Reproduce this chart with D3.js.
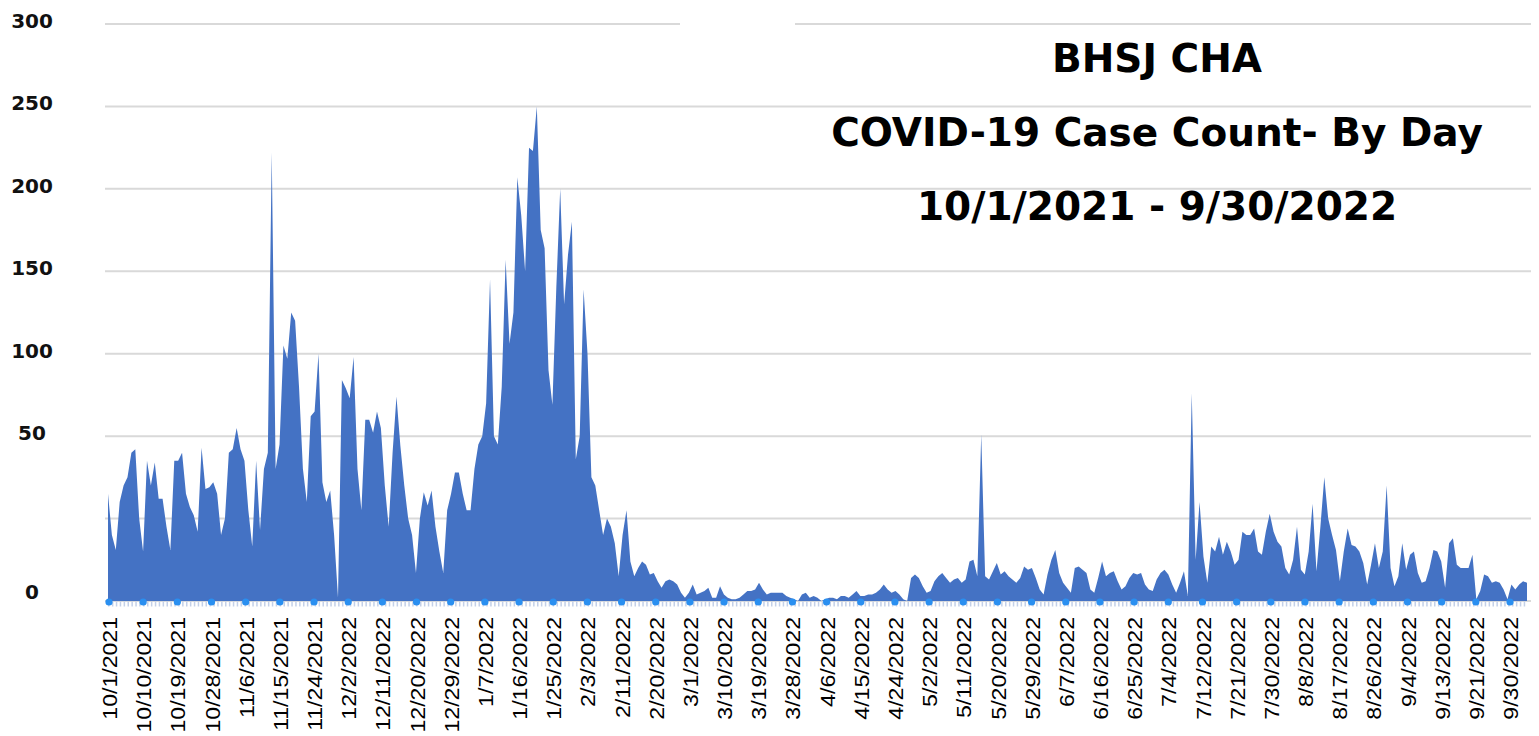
<!DOCTYPE html>
<html>
<head>
<meta charset="utf-8">
<script src="https://cdn.jsdelivr.net/npm/d3@7"></script>
<style>
	html, body { margin: 0; padding: 0; background: #fff; }
	svg { display: block; }
	.title { font-family: "DejaVu Sans", sans-serif; font-weight: 700; font-size: 39px; fill: #000; }
	.yaxis text { font-family: "DejaVu Sans", sans-serif; font-weight: 700; font-size: 20px; fill: #111; }
	.xaxis text { font-family: "Liberation Sans", Arial, sans-serif; font-size: 21px; fill: #000; }
</style>
</head>
<body>
<div id="chart"></div>
<script>
"use strict";

const chartWidth = 1539, chartHeight = 736;

//  Chart data
const titleLines = ['BHSJ CHA', 'COVID-19 Case Count- By Day', '10/1/2021 - 9/30/2022'];

const xTickLabels = [
	'10/1/2021', '10/10/2021', '10/19/2021', '10/28/2021', '11/6/2021', '11/15/2021', '11/24/2021',
	'12/2/2022', '12/11/2022', '12/20/2022', '12/29/2022', '1/7/2022', '1/16/2022', '1/25/2022',
	'2/3/2022', '2/11/2022', '2/20/2022', '3/1/2022', '3/10/2022', '3/19/2022', '3/28/2022',
	'4/6/2022', '4/15/2022', '4/24/2022', '5/2/2022', '5/11/2022', '5/20/2022', '5/29/2022',
	'6/7/2022', '6/16/2022', '6/25/2022', '7/4/2022', '7/12/2022', '7/21/2022', '7/30/2022',
	'8/8/2022', '8/17/2022', '8/26/2022', '9/4/2022', '9/13/2022', '9/21/2022', '9/30/2022'
];

// the picture's y labels do not sit on evenly numbered lines, so keep text and position apart
const yTickText = ['0', '50', '100', '150', '200', '250', '300'];
const yTickAt = [0, 100, 150, 200, 250, 300, 350];
const gridValues = [0, 50, 100, 150, 200, 250, 300, 350];

// one value per day, 10/1/2021 .. 9/30/2022
const caseCounts = [
	65, 40, 31, 60, 70, 75, 90, 92, 50, 30, 85, 70, 84, 62, 62, 45, 31, 85, 85, 90,
	65, 57, 52, 42, 93, 68, 69, 72, 65, 40, 50, 90, 92, 105, 92, 85, 55, 33, 85, 43,
	80, 90, 272, 80, 95, 155, 147, 175, 170, 130, 80, 60, 112, 115, 150, 72, 60, 67, 40, 2,
	134, 129, 123, 148, 80, 55, 110, 110, 102, 115, 105, 70, 45, 90, 124, 94, 70, 50, 40, 17,
	50, 66, 58, 67, 45, 30, 17, 55, 65, 78, 78, 65, 55, 55, 80, 95, 100, 120, 195, 100,
	95, 130, 207, 156, 175, 257, 234, 200, 275, 273, 300, 225, 214, 140, 119, 190, 250, 180, 210, 230,
	86, 100, 189, 150, 75, 70, 55, 40, 50, 45, 35, 15, 40, 55, 24, 15, 20, 24, 22, 16,
	17, 12, 8, 12, 13, 12, 10, 5, 2, 5, 10, 4, 5, 6, 8, 2, 2, 9, 4, 2,
	1, 1, 2, 4, 6, 6, 7, 11, 7, 4, 5, 5, 5, 5, 3, 2, 1, 0, 4, 5,
	2, 3, 2, 0, 1, 2, 2, 1, 3, 3, 2, 4, 6, 3, 3, 4, 4, 5, 7, 10,
	7, 5, 6, 4, 1, 0, 14, 16, 14, 9, 5, 6, 12, 15, 17, 14, 11, 13, 14, 11,
	13, 24, 25, 15, 101, 15, 13, 18, 23, 16, 18, 15, 13, 11, 14, 21, 19, 20, 14, 7,
	4, 16, 25, 31, 17, 11, 8, 5, 20, 21, 19, 17, 7, 5, 14, 24, 15, 17, 18, 12,
	7, 9, 14, 17, 16, 17, 10, 7, 6, 13, 17, 19, 16, 10, 5, 11, 18, 3, 126, 25,
	60, 27, 11, 33, 30, 39, 28, 36, 30, 22, 25, 42, 40, 40, 44, 30, 28, 42, 53, 42,
	36, 33, 20, 16, 25, 45, 19, 16, 30, 59, 18, 45, 75, 50, 40, 31, 12, 30, 44, 34,
	33, 30, 23, 10, 22, 35, 20, 30, 70, 20, 9, 15, 35, 19, 28, 30, 17, 11, 12, 20,
	31, 30, 24, 8, 35, 38, 22, 20, 20, 20, 28, 1, 6, 16, 15, 11, 12, 11, 7, 1,
	10, 7, 10, 12, 11
];

//  Scales
const plotLeft = 108, plotRight = 1527, plotTop = 24, plotBottom = 601;

const x = d3.scaleLinear()
	.domain([0, caseCounts.length - 1])
	.range([plotLeft, plotRight]);

const xLabels = d3.scalePoint()
	.domain(xTickLabels)
	.range([109, 1510]);

const y = d3.scaleLinear()
	.domain([0, 350])
	.range([plotBottom, plotTop]);

//  SVG
const svg = d3.select('#chart').append('svg')
	.attr('width', chartWidth)
	.attr('height', chartHeight)
	.attr('viewBox', [0, 0, chartWidth, chartHeight]);

svg.selectAll('.grid')
	.data(gridValues)
	.join('line')
	.classed('grid', true)
	.attr('x1', 105)
	.attr('x2', 1531)
	.attr('y1', d => y(d))
	.attr('y2', d => y(d))
	.attr('stroke', '#d9d9d9')
	.attr('stroke-width', 2);

// gap in the top grid line, as in the picture
svg.append('rect')
	.attr('x', 680)
	.attr('y', y(350) - 3)
	.attr('width', 115)
	.attr('height', 6)
	.attr('fill', '#fff');

const area = d3.area()
	.x((d, i) => x(i))
	.y0(y(0))
	.y1(d => y(d));

svg.append('path')
	.datum(caseCounts)
	.attr('d', area)
	.attr('fill', '#4472c4');

// light daily tick band under the baseline
svg.append('line')
	.attr('x1', plotLeft)
	.attr('x2', plotRight)
	.attr('y1', plotBottom + 3)
	.attr('y2', plotBottom + 3)
	.attr('stroke', '#c3d0e8')
	.attr('stroke-width', 5)
	.attr('stroke-dasharray', '1.5,2.4');

svg.selectAll('.dot')
	.data(xTickLabels)
	.join('circle')
	.classed('dot', true)
	.attr('cx', d => xLabels(d))
	.attr('cy', plotBottom + 1)
	.attr('r', 3.6)
	.attr('fill', '#2a8ff0');

//  Axes
const xAxis = svg.append('g')
	.classed('xaxis', true)
	.attr('transform', `translate(0, 617)`)
	.call(d3.axisBottom(xLabels).tickSize(0));

xAxis.select('.domain').remove();
xAxis.selectAll('text')
	.attr('x', 0)
	.attr('y', 0)
	.attr('dy', '0.36em')
	.attr('transform', 'rotate(-90) scale(1.1, 1)')   // labels are drawn a little stretched along their length
	.attr('text-anchor', 'end');

const yAxis = svg.append('g')
	.classed('yaxis', true)
	.attr('transform', `translate(32, 0)`)
	.call(d3.axisLeft(y).tickValues(yTickAt).tickFormat((d, i) => yTickText[i]).tickSize(0));

yAxis.select('.domain').remove();
yAxis.selectAll('text')
	.attr('x', 0)
	.attr('y', d => d === 0 ? -9 : -3)
	.attr('text-anchor', 'middle');

//  Title
svg.selectAll('.title')
	.data(titleLines)
	.join('text')
	.classed('title', true)
	.attr('x', 1157)
	.attr('y', (d, i) => 72 + i * 74)
	.attr('text-anchor', 'middle')
	.text(d => d);
</script>
</body>
</html>
